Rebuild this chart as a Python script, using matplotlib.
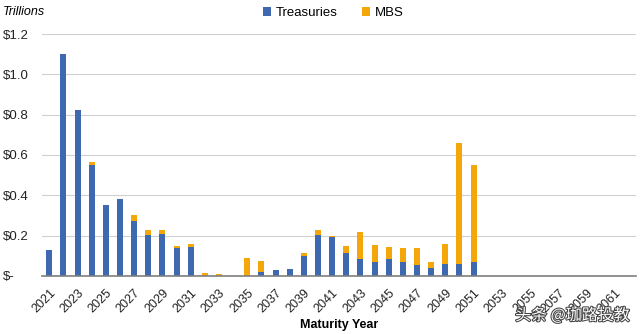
import matplotlib
matplotlib.use("Agg")
import matplotlib.pyplot as plt
import matplotlib.patheffects as pe
import numpy as np

years = list(range(2021, 2063))
treasuries = [0.13, 1.10, 0.825, 0.55, 0.35, 0.38, 0.27, 0.203, 0.208, 0.14, 0.144,
              0.0, 0.0, 0.0, 0.0, 0.018, 0.027, 0.036, 0.10, 0.203, 0.192, 0.112,
              0.086, 0.071, 0.084, 0.071, 0.055, 0.038, 0.061, 0.061, 0.071,
              0, 0, 0, 0, 0, 0, 0, 0, 0, 0, 0]
mbs = [0.0, 0.0, 0.0, 0.015, 0.0, 0.0, 0.03, 0.024, 0.019, 0.009, 0.013,
       0.013, 0.008, 0.0, 0.089, 0.058, 0.0, 0.0, 0.016, 0.025, 0.006, 0.037,
       0.132, 0.081, 0.06, 0.065, 0.084, 0.033, 0.099, 0.599, 0.481,
       0, 0, 0, 0, 0, 0, 0, 0, 0, 0, 0]
yticks = [0, 0.2, 0.4, 0.6, 0.8, 1.0, 1.2]
ytick_labels = ["$-", "$0.2", "$0.4", "$0.6", "$0.8", "$1.0", "$1.2"]

plt.rcParams['font.family'] = ['Liberation Sans', 'DejaVu Sans']
blue = '#3E69B0'
orange = '#F5A70A'

fig = plt.figure(figsize=(6.4, 3.34), dpi=100)
ax = fig.add_axes([0.066, 0.174, 0.928, 0.724])
x = np.arange(len(years))
ax.bar(x, treasuries, width=0.42, color=blue, label='Treasuries', zorder=3)
ax.bar(x, mbs, width=0.42, bottom=treasuries, color=orange, label='MBS', zorder=3)

ax.set_xlim(-0.5, len(years) - 0.5)
ax.set_ylim(0, 1.2)
ax.set_yticks(yticks)
ax.set_yticklabels(ytick_labels, fontsize=9.5, color='#222222')
ax.yaxis.grid(True, color='#D0D0D0', linewidth=0.8, zorder=0)
ax.tick_params(axis='y', length=0, pad=28)
for lab in ax.get_yticklabels():
    lab.set_horizontalalignment('left')
ax.set_xticks(x[::2])
ax.set_xticklabels([str(y) for y in years[::2]], rotation=45, ha='right',
                   rotation_mode='anchor', fontsize=9, color='#222222')
ax.tick_params(axis='x', length=0, pad=8)
for s in ['top', 'right', 'left']:
    ax.spines[s].set_visible(False)
ax.spines['bottom'].set_color('#7F7F7F')
ax.spines['bottom'].set_linewidth(1.2)
ax.spines['bottom'].set_zorder(4)

ax.set_xlabel('Maturity Year', fontsize=9, fontweight='bold', labelpad=3)
fig.text(0.005, 0.965, 'Trillions', fontsize=9, style='italic', va='center', ha='left')

ax.legend(loc='upper center', bbox_to_anchor=(0.49, 1.16), ncol=2, frameon=False,
          fontsize=9.5, handlelength=0.6, handleheight=0.6, columnspacing=1.8,
          handletextpad=0.4)

fig.text(0.984, 0.055, '头条 @珈路投教', fontsize=11.5, ha='right', va='center',
         family=['Noto Sans CJK SC', 'DejaVu Sans'], color='white',
         path_effects=[pe.withStroke(linewidth=1.5, foreground='#444444')])

fig.savefig('out.png', dpi=100)
